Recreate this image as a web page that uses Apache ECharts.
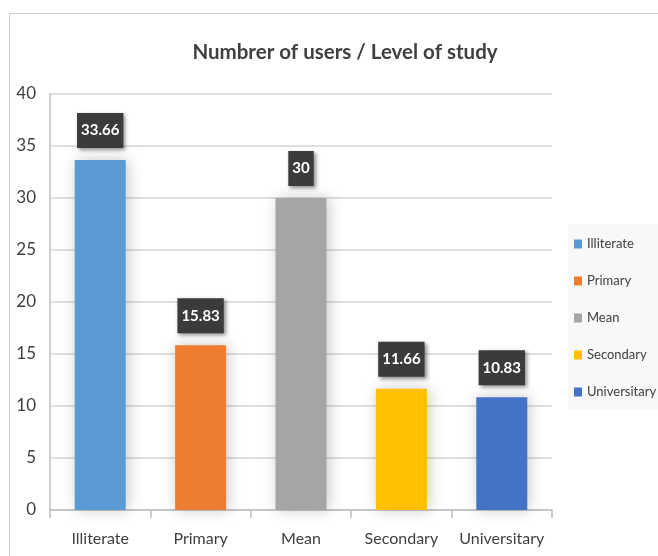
<!DOCTYPE html>
<html>
<head>
<meta charset="utf-8">
<script src="https://cdn.jsdelivr.net/npm/echarts@6/dist/echarts.min.js"></script>
<style>
  html, body { margin: 0; padding: 0; background: #ffffff; }
  #chart { width: 658px; height: 556px; }
</style>
</head>
<body>
<div id="chart"></div>
<script>
// Study levels and the number of users in each
const categories = ['Illiterate', 'Primary', 'Mean', 'Secondary', 'Universitary'];
const users = [33.66, 15.83, 30, 11.66, 10.83];
const barColors = ['#5B9BD5', '#ED7D31', '#A5A5A5', '#FFC000', '#4472C4'];
const yTicks = { min: 0, max: 40, interval: 5 };

const FONT = 'Lato, "Liberation Sans Narrow", "Noto Sans", sans-serif';

// One series per level so each gets its own legend entry; stacking keeps bars centred
const series = categories.map((name, i) => ({
  name: name,
  type: 'bar',
  stack: 'levels',
  barWidth: 51,
  data: categories.map((_, j) => (j === i ? users[i] : '-')),
  itemStyle: {
    color: barColors[i],
    shadowColor: 'rgba(0,0,0,0.22)',
    shadowBlur: 14,
    shadowOffsetX: 2,
    shadowOffsetY: 0
  },
  label: {
    show: true,
    position: 'top',
    distance: 12,
    formatter: p => String(p.value),
    color: '#ffffff',
    fontFamily: FONT,
    fontWeight: 'bold',
    fontSize: 15,
    lineHeight: 19,
    backgroundColor: '#3b3b3b',
    padding: [8, 4, 8, 4],
    shadowColor: 'rgba(0,0,0,0.45)',
    shadowBlur: 4,
    shadowOffsetX: 2,
    shadowOffsetY: 2
  }
}));

const chart = echarts.init(document.getElementById('chart'), null, { renderer: 'canvas' });
chart.setOption({
  backgroundColor: '#ffffff',
  animation: false,
  graphic: [
    {
      type: 'rect',
      z: -10,
      shape: { x: 9.5, y: 13.5, width: 700, height: 600 },
      style: { fill: '#ffffff', stroke: '#cfcfcf', lineWidth: 1 }
    },
    {
      type: 'rect',
      z: -5,
      shape: { x: 568, y: 224, width: 100, height: 186 },
      style: { fill: '#f8f8f8' }
    }
  ],
  title: {
    text: 'Numbrer of users / Level of study',
    left: 340,
    top: 37,
    textAlign: 'center',
    textStyle: {
      fontFamily: FONT,
      fontSize: 20.5,
      fontWeight: 'bold',
      color: '#404040'
    }
  },
  legend: {
    orient: 'vertical',
    left: 574,
    top: 236,
    padding: 0,
    itemWidth: 8,
    itemHeight: 9,
    itemGap: 21,
    icon: 'rect',
    textStyle: {
      fontFamily: FONT,
      fontSize: 13,
      lineHeight: 16,
      color: '#404040'
    },
    data: categories
  },
  grid: { left: 50, right: 106, top: 94, bottom: 46, containLabel: false },
  xAxis: {
    type: 'category',
    data: categories,
    axisLine: { lineStyle: { color: '#bfbfbf', width: 1.5 } },
    axisTick: { show: true, length: 8, lineStyle: { color: '#bfbfbf', width: 1.5 } },
    axisLabel: {
      interval: 0,
      fontFamily: FONT,
      fontSize: 16,
      color: '#404040',
      margin: 21
    }
  },
  yAxis: {
    type: 'value',
    min: yTicks.min,
    max: yTicks.max,
    interval: yTicks.interval,
    axisLine: { show: true, lineStyle: { color: '#bfbfbf', width: 1.5 } },
    axisTick: { show: false },
    splitLine: { lineStyle: { color: '#d4d4d4', width: 1.5 } },
    axisLabel: {
      fontFamily: FONT,
      fontSize: 17,
      color: '#404040',
      margin: 14
    }
  },
  series: series
});
</script>
</body>
</html>
